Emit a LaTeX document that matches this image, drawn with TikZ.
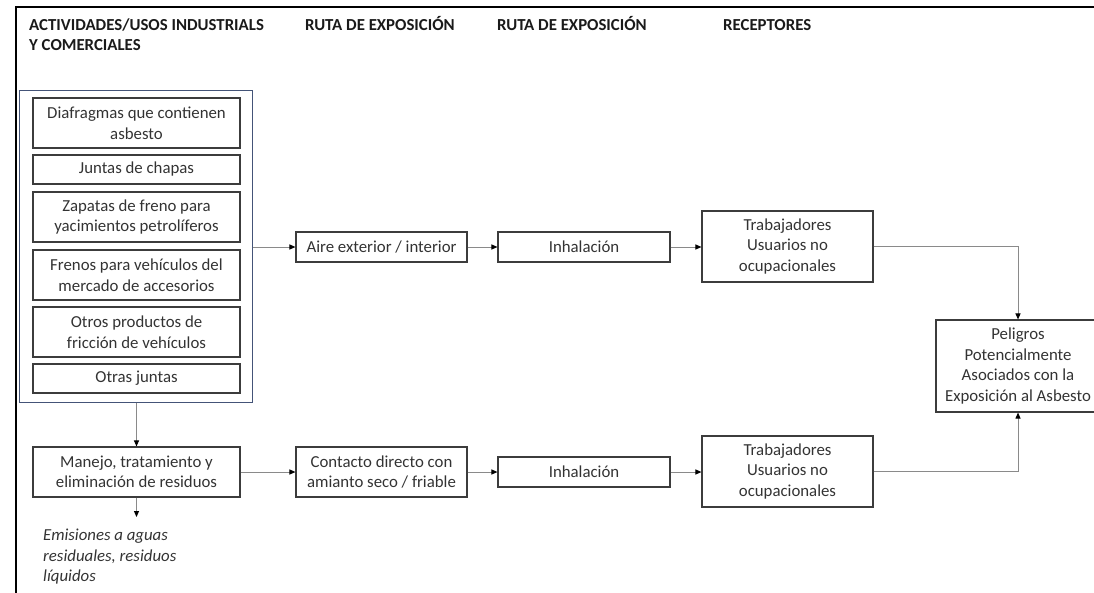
\documentclass[tikz,border=0pt]{standalone}
\usepackage{fontspec}
\setmainfont{Carlito}
\usetikzlibrary{arrows.meta}
\definecolor{txt}{HTML}{333333}
\definecolor{headc}{HTML}{1A1A1A}
\definecolor{boxc}{HTML}{3C3C3C}
\definecolor{outerc}{RGB}{68,84,120}
\definecolor{linec}{HTML}{8A8A8A}
\begin{document}
\begin{tikzpicture}[x=1pt,y=-1pt,
  box/.style={draw=boxc, line width=1.1pt, inner sep=0pt, align=center,
    text=txt, font=\fontsize{16.8}{20.5}\selectfont},
  head/.style={anchor=base west, inner sep=0pt, align=left, text=headc,
    font=\fontsize{16.8}{20}\selectfont\bfseries},
  conn/.style={draw=linec, line width=1pt,
    -{Triangle[length=6pt,width=5pt,black]}}]
\useasboundingbox (0,0) rectangle (1094,592);
% frame
\draw[line width=2pt, black] (15,7) -- (1100,7);
\draw[line width=2pt, black] (16,6) -- (16,600);
% headings (base of a two-line node is its last line)
\node[head] (h1) at (29,50) {ACTIVIDADES/USOS INDUSTRIALS\\Y COMERCIALES};
\node[head] (h2) at (305,30) {RUTA DE EXPOSICIÓN};
\node[head] (h3) at (497,30) {RUTA DE EXPOSICIÓN};
\node[head] (h4) at (723,30) {RECEPTORES};
% outer group box
\node[draw=outerc, line width=1pt, minimum width=233pt, minimum height=312pt, inner sep=0pt] (outer) at (135.5,246) {};
% inner boxes
\node[box, minimum width=207pt, minimum height=50pt] (diaf) at (136.5,123) {Diafragmas que contienen\\asbesto};
\node[box, minimum width=207pt, minimum height=29pt] (juntas) at (136.5,169.5) {Juntas de chapas};
\node[box, minimum width=207pt, minimum height=50pt] (zapatas) at (136.5,217) {Zapatas de freno para\\yacimientos petrolíferos};
\node[box, minimum width=207pt, minimum height=50pt] (frenos) at (136.5,275) {Frenos para vehículos del\\mercado de accesorios};
\node[box, minimum width=207pt, minimum height=50pt] (otros) at (136.5,332) {Otros productos de\\fricción de vehículos};
\node[box, minimum width=207pt, minimum height=29pt] (otrasj) at (136.5,378.5) {Otras juntas};
% upper row
\node[box, minimum width=171pt, minimum height=30pt] (aire) at (381.5,247) {Aire exterior / interior};
\node[box, minimum width=172pt, minimum height=30pt] (inh1) at (584,247) {Inhalación};
\node[box, minimum width=171pt, minimum height=71pt] (trab1) at (787.5,246.5) {Trabajadores\\Usuarios no\\ocupacionales};
% result
\node[box, minimum width=164pt, minimum height=92pt] (pel) at (1018,366) {Peligros\\Potencialmente\\Asociados con la\\Exposición al Asbesto};
% lower row
\node[box, minimum width=207pt, minimum height=50pt] (manejo) at (136.5,472) {Manejo, tratamiento y\\eliminación de residuos};
\node[box, minimum width=171pt, minimum height=50pt] (contacto) at (381.5,472) {Contacto directo con\\amianto seco / friable};
\node[box, minimum width=172pt, minimum height=30pt] (inh2) at (584,472) {Inhalación};
\node[box, minimum width=171pt, minimum height=71pt] (trab2) at (787.5,471.5) {Trabajadores\\Usuarios no\\ocupacionales};
% emissions
\coordinate (emis) at (136.5,517);
\node[anchor=north west, align=left, inner sep=0pt, text=txt,
  font=\fontsize{16.8}{20.5}\selectfont\itshape] (emtxt) at (43,529) {Emisiones a aguas\\residuales, residuos\\líquidos};
% connectors
\draw[conn] (outer.east |- aire.west) -- (aire.west);
\draw[conn] (aire.east) -- (inh1.west);
\draw[conn] (inh1.east) -- (trab1.west |- inh1.east);
\draw[conn] (trab1.east) -| (pel.north);
\draw[conn] (manejo.north |- outer.south) -- (manejo.north);
\draw[conn] (manejo.south) -- (emis);
\draw[conn] (manejo.east) -- (contacto.west);
\draw[conn] (contacto.east) -- (inh2.west);
\draw[conn] (inh2.east) -- (trab2.west |- inh2.east);
\draw[conn] (trab2.east) -| (pel.south);
\end{tikzpicture}
\end{document}
